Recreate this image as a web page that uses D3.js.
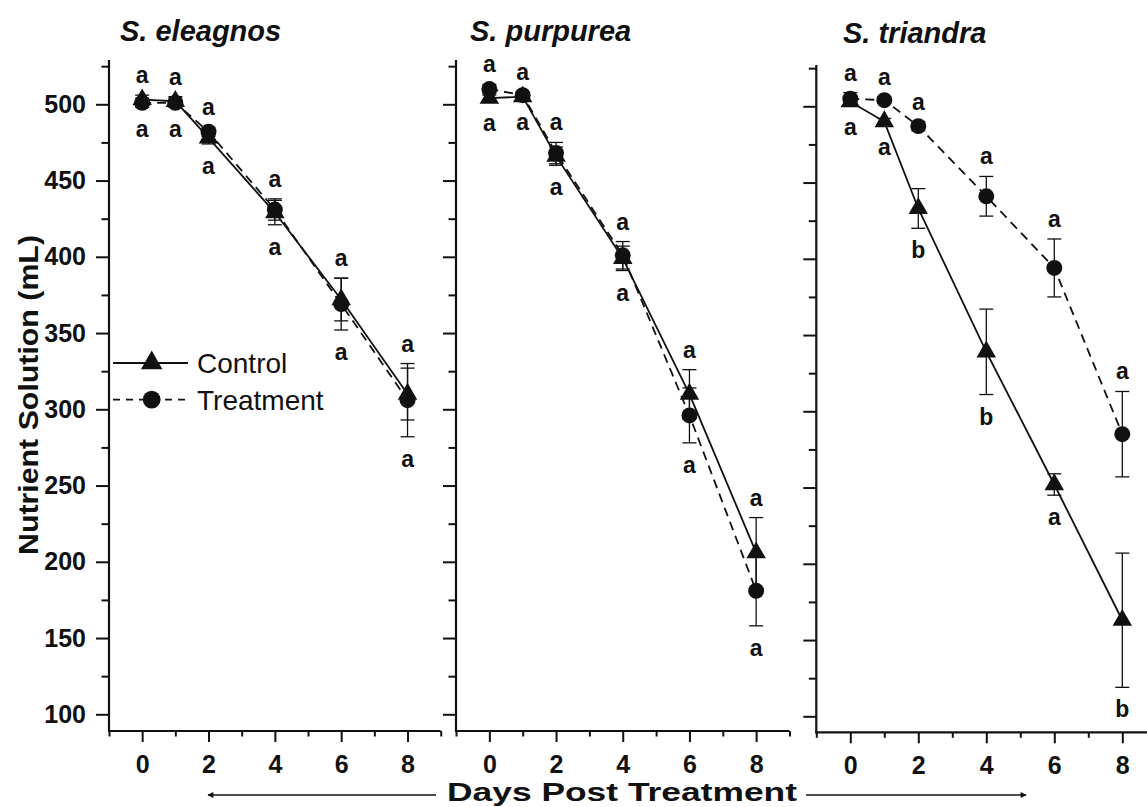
<!DOCTYPE html>
<html>
<head>
<meta charset="utf-8">
<script src="https://cdn.jsdelivr.net/npm/d3@7"></script>
<style>
  body { margin: 0; background: #fff; }
  svg { display: block; }
</style>
</head>
<body>
<svg id="chart" width="1147" height="807"></svg>
<script>
// Sampling days (x values shared by every panel)
const days = [0, 1, 2, 4, 6, 8];

// Panel titles
const species = ["S. eleagnos", "S. purpurea", "S. triandra"];

// Nutrient solution remaining (mL): means and standard errors
const eleagnosControl   = [503, 502, 478, 429, 372, 310];
const eleagnosControlSE = [3, 3, 4, 8, 14, 17];
const eleagnosTreat     = [501, 501, 482, 431, 369, 306];
const eleagnosTreatSE   = [3, 3, 3, 7, 17, 24];

const purpureaControl   = [504, 505, 466, 399, 310, 206];
const purpureaControlSE = [2, 2, 6, 8, 16, 23];
const purpureaTreat     = [510, 506, 468, 401, 296, 181];
const purpureaTreatSE   = [3, 2, 7, 9, 18, 23];

const triandraControl   = [503, 490, 433, 339, 252, 163];
const triandraControlSE = [2, 2, 13, 28, 7, 44];
const triandraTreat     = [505, 504, 487, 441, 394, 285];
const triandraTreatSE   = [4, 2, 3, 13, 19, 28];

// Significance letters: upper row (Treatment), lower row (Control)
const eleagnosUpper = ["a", "a", "a", "a", "a", "a"];
const eleagnosLower = ["a", "a", "a", "a", "a", "a"];
const purpureaUpper = ["a", "a", "a", "a", "a", "a"];
const purpureaLower = ["a", "a", "a", "a", "a", "a"];
const triandraUpper = ["a", "a", "a", "a", "a", "a"];
const triandraLower = ["a", "a", "b", "b", "a", "b"];

// Axis ticks
const yMajorTicks = [100, 150, 200, 250, 300, 350, 400, 450, 500];
const yMinorTicks = [125, 175, 225, 275, 325, 375, 425, 475, 525];
const xMajorTicks = [0, 2, 4, 6, 8];
const xMinorTicks = [-1, 1, 3, 5, 7, 9];

// Legend entries
const legendLabels = ["Control", "Treatment"];

const seriesData = [
  { control: eleagnosControl, controlSE: eleagnosControlSE, treat: eleagnosTreat, treatSE: eleagnosTreatSE, upper: eleagnosUpper, lower: eleagnosLower },
  { control: purpureaControl, controlSE: purpureaControlSE, treat: purpureaTreat, treatSE: purpureaTreatSE, upper: purpureaUpper, lower: purpureaLower },
  { control: triandraControl, controlSE: triandraControlSE, treat: triandraTreat, treatSE: triandraTreatSE, upper: triandraUpper, lower: triandraLower }
];

// Panel frames in pixels
const panels = [
  { left: 109,   right: 440.7,  top: 60, bottom: 731,   y100: 714.3, y500: 104.3, titleX: 120, titleY: 41 },
  { left: 456,   right: 789.5,  top: 60, bottom: 731,   y100: 714.3, y500: 104.3, titleX: 470, titleY: 41 },
  { left: 816.3, right: 1156.3, top: 65, bottom: 732.3, y100: 716.3, y500: 106.3, titleX: 843, titleY: 43 }
];

const FONT = "'Liberation Sans', Arial, Helvetica, sans-serif";
const svg = d3.select("#chart");

const triangle = d3.symbol().type(d3.symbolTriangle).size(165);
const circle = d3.symbol().type(d3.symbolCircle).size(200);

panels.forEach((p, i) => {
  const d = seriesData[i];
  const x = d3.scaleLinear().domain([-1, 9]).range([p.left, p.right]);
  const y = d3.scaleLinear().domain([100, 500]).range([p.y100, p.y500]);
  const g = svg.append("g");

  // Title
  g.append("text")
    .attr("x", p.titleX).attr("y", p.titleY)
    .attr("font-family", FONT).attr("font-size", 29)
    .attr("font-weight", "bold").attr("font-style", "italic")
    .attr("fill", "#111")
    .text(species[i]);

  // Y axis: major + minor ticks
  const yMajor = d3.axisLeft(y).tickValues(yMajorTicks).tickSize(13).tickPadding(10)
    .tickFormat(i === 0 ? d3.format("d") : () => "");
  const yMinor = d3.axisLeft(y).tickValues(yMinorTicks).tickSize(7.5).tickFormat(() => "");
  [yMajor, yMinor].forEach(ax => {
    const a = g.append("g").attr("transform", `translate(${p.left},0)`).call(ax);
    a.select(".domain").remove();
    a.selectAll("line").attr("stroke", "#111").attr("stroke-width", 2);
    a.selectAll("text").attr("font-family", FONT).attr("font-size", 25)
      .attr("font-weight", "bold").attr("fill", "#111");
  });

  // X axis: major + minor ticks
  const xMajor = d3.axisBottom(x).tickValues(xMajorTicks).tickSize(11).tickPadding(13).tickFormat(d3.format("d"));
  const xMinor = d3.axisBottom(x).tickValues(xMinorTicks).tickSize(5.5).tickFormat(() => "");
  [xMajor, xMinor].forEach(ax => {
    const a = g.append("g").attr("transform", `translate(0,${p.bottom})`).call(ax);
    a.select(".domain").remove();
    a.selectAll("line").attr("stroke", "#111").attr("stroke-width", 2);
    a.selectAll("text").attr("font-family", FONT).attr("font-size", 25)
      .attr("font-weight", "bold").attr("fill", "#111");
  });

  // Axis spines
  g.append("line").attr("x1", p.left).attr("x2", p.left).attr("y1", p.top).attr("y2", p.bottom + 1)
    .attr("stroke", "#111").attr("stroke-width", 2.2);
  g.append("line").attr("x1", p.left - 1).attr("x2", p.right).attr("y1", p.bottom).attr("y2", p.bottom)
    .attr("stroke", "#111").attr("stroke-width", 2.2);

  const ctrl = days.map((day, k) => ({ day, v: d.control[k], se: d.controlSE[k] }));
  const trt = days.map((day, k) => ({ day, v: d.treat[k], se: d.treatSE[k] }));
  const line = d3.line().x(e => x(e.day)).y(e => y(e.v));

  // Connecting lines
  g.append("path").datum(trt).attr("d", line).attr("fill", "none")
    .attr("stroke", "#111").attr("stroke-width", 1.8).attr("stroke-dasharray", "9,6");
  g.append("path").datum(ctrl).attr("d", line).attr("fill", "none")
    .attr("stroke", "#111").attr("stroke-width", 1.8);

  // Error bars
  [ctrl, trt].forEach(series => {
    const eb = g.append("g").selectAll("g").data(series).join("g");
    eb.append("line")
      .attr("x1", e => x(e.day)).attr("x2", e => x(e.day))
      .attr("y1", e => y(e.v + e.se)).attr("y2", e => y(e.v - e.se))
      .attr("stroke", "#111").attr("stroke-width", 1.3);
    [1, -1].forEach(sgn => {
      eb.append("line")
        .attr("x1", e => x(e.day) - 7).attr("x2", e => x(e.day) + 7)
        .attr("y1", e => y(e.v + sgn * e.se)).attr("y2", e => y(e.v + sgn * e.se))
        .attr("stroke", "#111").attr("stroke-width", 1.3);
    });
  });

  // Markers
  g.append("g").selectAll("path").data(trt).join("path")
    .attr("d", circle).attr("transform", e => `translate(${x(e.day)},${y(e.v)})`).attr("fill", "#111");
  g.append("g").selectAll("path").data(ctrl).join("path")
    .attr("d", triangle).attr("transform", e => `translate(${x(e.day)},${y(e.v)})`).attr("fill", "#111");

  // Significance letters above and below each day
  days.forEach((day, k) => {
    const top = Math.max(d.control[k] + d.controlSE[k], d.treat[k] + d.treatSE[k]);
    const bot = Math.min(d.control[k] - d.controlSE[k], d.treat[k] - d.treatSE[k]);
    g.append("text").attr("x", x(day)).attr("y", y(top) - 12)
      .attr("text-anchor", "middle").attr("font-family", FONT).attr("font-size", 23)
      .attr("font-weight", "bold").attr("fill", "#111").text(d.upper[k]);
    g.append("text").attr("x", x(day)).attr("y", y(bot) + 30)
      .attr("text-anchor", "middle").attr("font-family", FONT).attr("font-size", 23)
      .attr("font-weight", "bold").attr("fill", "#111").text(d.lower[k]);
  });
});

// Legend (inside the first panel)
const legend = svg.append("g");
legendLabels.forEach((lab, k) => {
  const ly = 363 + k * 36.6;
  legend.append("line").attr("x1", 113).attr("x2", 188).attr("y1", ly).attr("y2", ly)
    .attr("stroke", "#111").attr("stroke-width", 1.8)
    .attr("stroke-dasharray", k === 1 ? "7,6" : null);
  legend.append("path")
    .attr("d", k === 0 ? d3.symbol().type(d3.symbolTriangle).size(200)() : d3.symbol().type(d3.symbolCircle).size(250)())
    .attr("transform", `translate(151.7,${ly})`).attr("fill", "#111");
  legend.append("text").attr("x", 197).attr("y", ly + 10)
    .attr("font-family", FONT).attr("font-size", 28).attr("fill", "#111").text(lab);
});

// Y-axis title
svg.append("text")
  .attr("transform", "translate(38,395) rotate(-90)")
  .attr("text-anchor", "middle")
  .attr("font-family", FONT).attr("font-size", 28).attr("font-weight", "bold")
  .attr("fill", "#111")
  .attr("textLength", 320).attr("lengthAdjust", "spacingAndGlyphs")
  .text("Nutrient Solution (mL)");

// X-axis title with arrows on both sides
svg.append("text")
  .attr("x", 622).attr("y", 801)
  .attr("text-anchor", "middle")
  .attr("font-family", FONT).attr("font-size", 26).attr("font-weight", "bold")
  .attr("fill", "#111")
  .attr("textLength", 350).attr("lengthAdjust", "spacingAndGlyphs")
  .text("Days Post Treatment");

const defs = svg.append("defs");
defs.append("marker").attr("id", "arrowHead")
  .attr("viewBox", "0 0 10 10").attr("refX", 9).attr("refY", 5)
  .attr("markerWidth", 9).attr("markerHeight", 6).attr("markerUnits", "userSpaceOnUse")
  .attr("orient", "auto")
  .append("path").attr("d", "M0,0 L10,5 L0,10 Z").attr("fill", "#111");

svg.append("line").attr("x1", 436).attr("x2", 208).attr("y1", 795).attr("y2", 795)
  .attr("stroke", "#111").attr("stroke-width", 1.3).attr("marker-end", "url(#arrowHead)");
svg.append("line").attr("x1", 806).attr("x2", 1026).attr("y1", 795).attr("y2", 795)
  .attr("stroke", "#111").attr("stroke-width", 1.3).attr("marker-end", "url(#arrowHead)");
</script>
</body>
</html>
